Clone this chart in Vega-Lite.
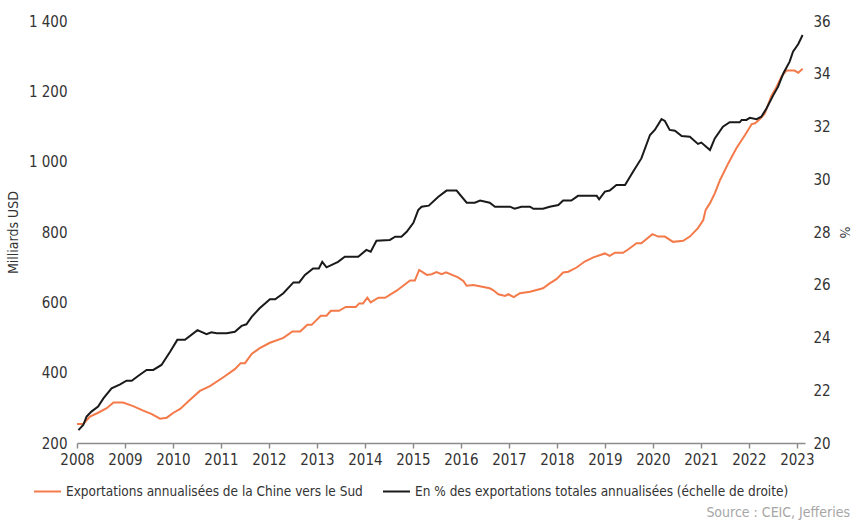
{
  "$schema": "https://vega.github.io/schema/vega-lite/v6.json",
  "width": 728,
  "height": 422,
  "autosize": {"type": "none"},
  "padding": {"left": 77, "top": 21, "right": 49, "bottom": 77},
  "background": "white",
  "config": {
    "font": "'DejaVu Sans Condensed', 'Liberation Sans Narrow', Roboto, sans-serif",
    "view": {"stroke": null},
    "axis": {"grid": false, "labelFont": "'DejaVu Sans Condensed', 'Liberation Sans Narrow', Roboto, sans-serif", "titleFont": "'DejaVu Sans Condensed', 'Liberation Sans Narrow', Roboto, sans-serif", "labelColor": "#333333", "titleColor": "#333333", "titleFontWeight": "normal"},
    "legend": {"labelFont": "'DejaVu Sans Condensed', 'Liberation Sans Narrow', Roboto, sans-serif"}
  },
  "title": {"text": "Source : CEIC, Jefferies", "orient": "bottom", "anchor": "end", "frame": "group", "color": "#a6a6a6", "fontSize": 14, "fontWeight": "normal", "font": "'DejaVu Sans Condensed', 'Liberation Sans Narrow', Roboto, sans-serif", "dx": 45, "offset": 8},
  "datasets": {
    "exports": [
      {"t": 2008.0, "v": 254}, {"t": 2008.13, "v": 254}, {"t": 2008.27, "v": 275}, {"t": 2008.44, "v": 286},
      {"t": 2008.62, "v": 299}, {"t": 2008.76, "v": 315}, {"t": 2008.96, "v": 315}, {"t": 2009.17, "v": 305},
      {"t": 2009.38, "v": 292}, {"t": 2009.56, "v": 282}, {"t": 2009.73, "v": 269}, {"t": 2009.87, "v": 272},
      {"t": 2010.01, "v": 286}, {"t": 2010.15, "v": 297}, {"t": 2010.35, "v": 322}, {"t": 2010.56, "v": 348},
      {"t": 2010.77, "v": 362}, {"t": 2011.05, "v": 387}, {"t": 2011.29, "v": 410}, {"t": 2011.41, "v": 427},
      {"t": 2011.5, "v": 427}, {"t": 2011.64, "v": 453}, {"t": 2011.8, "v": 469}, {"t": 2012.02, "v": 485},
      {"t": 2012.3, "v": 499}, {"t": 2012.49, "v": 517}, {"t": 2012.65, "v": 517}, {"t": 2012.8, "v": 536},
      {"t": 2012.89, "v": 536}, {"t": 2013.08, "v": 562}, {"t": 2013.2, "v": 562}, {"t": 2013.29, "v": 576},
      {"t": 2013.46, "v": 576}, {"t": 2013.6, "v": 587}, {"t": 2013.81, "v": 587}, {"t": 2013.88, "v": 597},
      {"t": 2013.96, "v": 597}, {"t": 2014.05, "v": 613}, {"t": 2014.12, "v": 600}, {"t": 2014.28, "v": 613},
      {"t": 2014.42, "v": 613}, {"t": 2014.66, "v": 633}, {"t": 2014.94, "v": 662}, {"t": 2015.04, "v": 662},
      {"t": 2015.13, "v": 692}, {"t": 2015.29, "v": 678}, {"t": 2015.39, "v": 680}, {"t": 2015.49, "v": 686},
      {"t": 2015.6, "v": 680}, {"t": 2015.69, "v": 685}, {"t": 2015.94, "v": 671}, {"t": 2016.05, "v": 661},
      {"t": 2016.12, "v": 647}, {"t": 2016.26, "v": 649}, {"t": 2016.6, "v": 640}, {"t": 2016.67, "v": 635},
      {"t": 2016.78, "v": 623}, {"t": 2016.92, "v": 618}, {"t": 2016.99, "v": 623}, {"t": 2017.1, "v": 615},
      {"t": 2017.23, "v": 626}, {"t": 2017.44, "v": 630}, {"t": 2017.71, "v": 640}, {"t": 2017.85, "v": 654},
      {"t": 2017.99, "v": 666}, {"t": 2018.13, "v": 685}, {"t": 2018.24, "v": 687}, {"t": 2018.41, "v": 699},
      {"t": 2018.58, "v": 716}, {"t": 2018.76, "v": 728}, {"t": 2019.0, "v": 739}, {"t": 2019.1, "v": 732},
      {"t": 2019.21, "v": 741}, {"t": 2019.38, "v": 741}, {"t": 2019.49, "v": 751}, {"t": 2019.66, "v": 768},
      {"t": 2019.76, "v": 768}, {"t": 2019.99, "v": 794}, {"t": 2020.11, "v": 787}, {"t": 2020.25, "v": 787},
      {"t": 2020.42, "v": 772}, {"t": 2020.63, "v": 775}, {"t": 2020.77, "v": 787}, {"t": 2020.94, "v": 811},
      {"t": 2021.05, "v": 834}, {"t": 2021.1, "v": 863}, {"t": 2021.19, "v": 882}, {"t": 2021.29, "v": 910},
      {"t": 2021.4, "v": 948}, {"t": 2021.57, "v": 995}, {"t": 2021.74, "v": 1038}, {"t": 2021.92, "v": 1076},
      {"t": 2022.06, "v": 1107}, {"t": 2022.13, "v": 1109}, {"t": 2022.23, "v": 1121}, {"t": 2022.33, "v": 1136},
      {"t": 2022.47, "v": 1187}, {"t": 2022.58, "v": 1213}, {"t": 2022.68, "v": 1242}, {"t": 2022.78, "v": 1259},
      {"t": 2022.95, "v": 1259}, {"t": 2023.03, "v": 1253}, {"t": 2023.12, "v": 1264}
    ],
    "share": [
      {"t": 2008.03, "p": 20.49}, {"t": 2008.13, "p": 20.68}, {"t": 2008.2, "p": 21.0}, {"t": 2008.3, "p": 21.19},
      {"t": 2008.44, "p": 21.38}, {"t": 2008.55, "p": 21.69}, {"t": 2008.72, "p": 22.07}, {"t": 2008.9, "p": 22.22},
      {"t": 2009.03, "p": 22.36}, {"t": 2009.14, "p": 22.36}, {"t": 2009.28, "p": 22.55}, {"t": 2009.45, "p": 22.77},
      {"t": 2009.59, "p": 22.77}, {"t": 2009.76, "p": 22.96}, {"t": 2009.94, "p": 23.46}, {"t": 2010.09, "p": 23.91},
      {"t": 2010.25, "p": 23.91}, {"t": 2010.51, "p": 24.28}, {"t": 2010.7, "p": 24.13}, {"t": 2010.8, "p": 24.2},
      {"t": 2010.91, "p": 24.16}, {"t": 2011.12, "p": 24.16}, {"t": 2011.29, "p": 24.22}, {"t": 2011.43, "p": 24.44},
      {"t": 2011.53, "p": 24.5}, {"t": 2011.64, "p": 24.78}, {"t": 2011.8, "p": 25.1}, {"t": 2012.02, "p": 25.45},
      {"t": 2012.13, "p": 25.45}, {"t": 2012.3, "p": 25.68}, {"t": 2012.51, "p": 26.09}, {"t": 2012.63, "p": 26.09},
      {"t": 2012.75, "p": 26.37}, {"t": 2012.92, "p": 26.62}, {"t": 2013.04, "p": 26.62}, {"t": 2013.11, "p": 26.87},
      {"t": 2013.2, "p": 26.66}, {"t": 2013.44, "p": 26.87}, {"t": 2013.58, "p": 27.06}, {"t": 2013.86, "p": 27.06},
      {"t": 2014.03, "p": 27.32}, {"t": 2014.12, "p": 27.25}, {"t": 2014.24, "p": 27.67}, {"t": 2014.52, "p": 27.7},
      {"t": 2014.63, "p": 27.82}, {"t": 2014.76, "p": 27.82}, {"t": 2014.87, "p": 28.01}, {"t": 2015.01, "p": 28.35},
      {"t": 2015.11, "p": 28.83}, {"t": 2015.18, "p": 28.96}, {"t": 2015.33, "p": 29.0}, {"t": 2015.53, "p": 29.34},
      {"t": 2015.7, "p": 29.57}, {"t": 2015.91, "p": 29.57}, {"t": 2016.12, "p": 29.11}, {"t": 2016.29, "p": 29.11},
      {"t": 2016.4, "p": 29.19}, {"t": 2016.6, "p": 29.11}, {"t": 2016.71, "p": 28.96}, {"t": 2017.02, "p": 28.96},
      {"t": 2017.12, "p": 28.88}, {"t": 2017.26, "p": 28.96}, {"t": 2017.44, "p": 28.96}, {"t": 2017.51, "p": 28.88},
      {"t": 2017.71, "p": 28.88}, {"t": 2017.85, "p": 28.96}, {"t": 2018.03, "p": 29.02}, {"t": 2018.13, "p": 29.19},
      {"t": 2018.3, "p": 29.19}, {"t": 2018.44, "p": 29.37}, {"t": 2018.83, "p": 29.37}, {"t": 2018.88, "p": 29.24},
      {"t": 2019.0, "p": 29.53}, {"t": 2019.1, "p": 29.57}, {"t": 2019.24, "p": 29.78}, {"t": 2019.42, "p": 29.78},
      {"t": 2019.59, "p": 30.29}, {"t": 2019.76, "p": 30.79}, {"t": 2019.94, "p": 31.68}, {"t": 2020.04, "p": 31.87},
      {"t": 2020.18, "p": 32.28}, {"t": 2020.25, "p": 32.21}, {"t": 2020.35, "p": 31.87}, {"t": 2020.46, "p": 31.84},
      {"t": 2020.6, "p": 31.64}, {"t": 2020.77, "p": 31.61}, {"t": 2020.94, "p": 31.34}, {"t": 2021.01, "p": 31.39},
      {"t": 2021.19, "p": 31.11}, {"t": 2021.29, "p": 31.55}, {"t": 2021.46, "p": 31.99}, {"t": 2021.6, "p": 32.16},
      {"t": 2021.81, "p": 32.16}, {"t": 2021.85, "p": 32.25}, {"t": 2021.95, "p": 32.25}, {"t": 2022.02, "p": 32.33},
      {"t": 2022.16, "p": 32.28}, {"t": 2022.26, "p": 32.37}, {"t": 2022.37, "p": 32.69}, {"t": 2022.51, "p": 33.19},
      {"t": 2022.61, "p": 33.51}, {"t": 2022.72, "p": 34.02}, {"t": 2022.85, "p": 34.46}, {"t": 2022.92, "p": 34.84},
      {"t": 2023.03, "p": 35.13}, {"t": 2023.12, "p": 35.47}
    ]
  },
  "layer": [
    {
      "data": {"name": "exports"},
      "mark": {"type": "line", "strokeWidth": 2},
      "encoding": {
        "x": {"field": "t", "type": "quantitative", "scale": {"domain": [2008, 2023.17], "nice": false, "zero": false},
          "axis": {"title": null, "values": [2008, 2009, 2010, 2011, 2012, 2013, 2014, 2015, 2016, 2017, 2018, 2019, 2020, 2021, 2022, 2023], "format": "d", "labelFontSize": 15, "labelPadding": 4, "domainColor": "#8c8c8c", "domainWidth": 1.5, "tickColor": "#8c8c8c", "tickSize": 5, "tickWidth": 1.5, "labelFlush": false, "labelOverlap": false}},
        "y": {"field": "v", "type": "quantitative", "scale": {"domain": [200, 1400], "nice": false, "zero": false},
          "axis": {"orient": "left", "title": "Milliards USD", "titleFontSize": 14, "titlePadding": 8, "values": [200, 400, 600, 800, 1000, 1200, 1400], "labelExpr": "replace(format(datum.value, ',d'), ',', ' ')", "labelFontSize": 15, "labelPadding": 10, "domain": false, "ticks": false}},
        "color": {"datum": "Exportations annualisées de la Chine vers le Sud", "type": "nominal",
          "scale": {"domain": ["Exportations annualisées de la Chine vers le Sud", "En % des exportations totales annualisées (échelle de droite)"], "range": ["#f47a4a", "#1a1a1a"]},
          "legend": {"title": null, "orient": "none", "legendX": -44, "legendY": 456, "direction": "horizontal", "symbolType": "stroke", "symbolStrokeWidth": 2, "symbolSize": 729, "labelFontSize": 13.5, "labelColor": "#333333", "labelOffset": 4, "columnPadding": 16, "labelLimit": 500}}
      }
    },
    {
      "data": {"name": "share"},
      "mark": {"type": "line", "strokeWidth": 2},
      "encoding": {
        "x": {"field": "t", "type": "quantitative"},
        "y": {"field": "p", "type": "quantitative", "scale": {"domain": [20, 36], "nice": false, "zero": false},
          "axis": {"orient": "right", "title": "%", "titleFontSize": 14, "titlePadding": 6, "values": [20, 22, 24, 26, 28, 30, 32, 34, 36], "labelFontSize": 15, "labelPadding": 8, "domain": false, "ticks": false}},
        "color": {"datum": "En % des exportations totales annualisées (échelle de droite)", "type": "nominal"}
      }
    }
  ],
  "resolve": {"scale": {"y": "independent"}}
}
